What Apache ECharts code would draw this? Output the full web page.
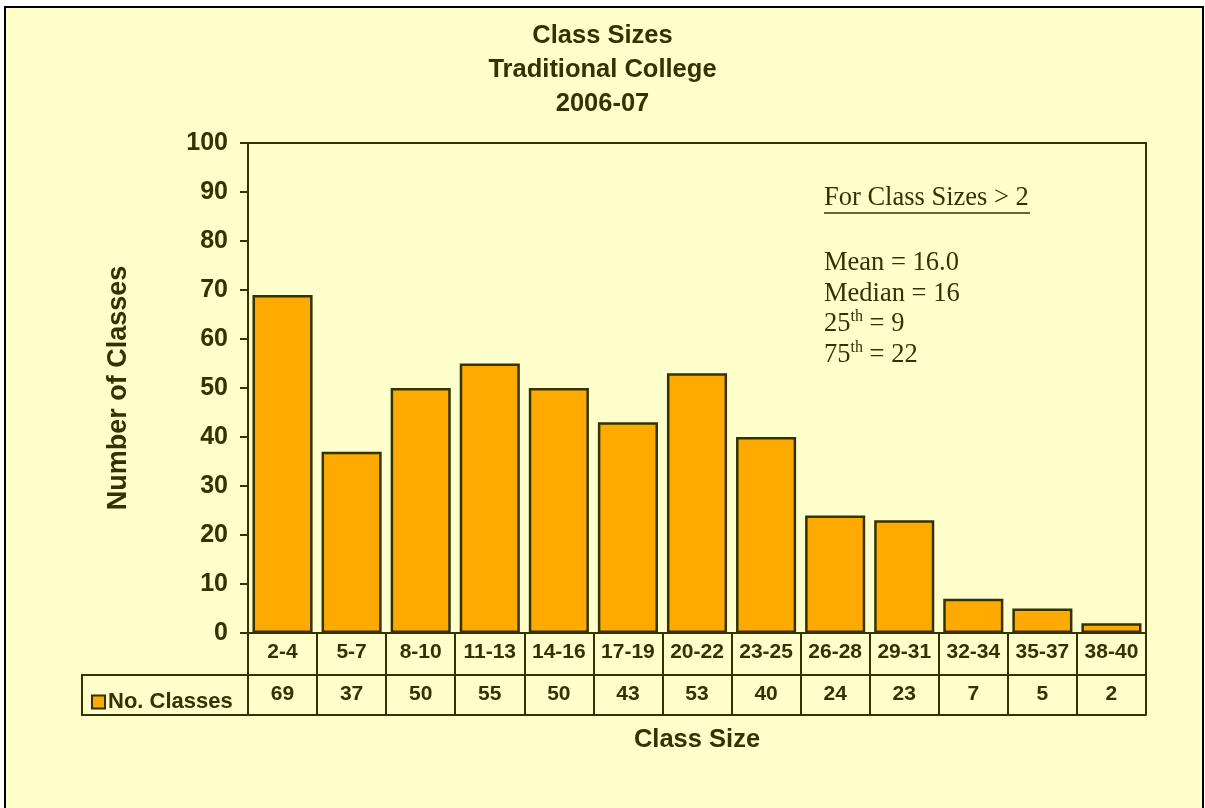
<!DOCTYPE html>
<html>
<head>
<meta charset="utf-8">
<title>Class Sizes</title>
<script src="https://cdn.jsdelivr.net/npm/echarts@6/dist/echarts.min.js"></script>
<style>
    html, body { margin: 0; padding: 0; background: #ffffff; }
    #report { width: 1205px; height: 808px; }
</style>
</head>
<body>
<div id="report"></div>
<script>
// data
var classSizes = ['2-4', '5-7', '8-10', '11-13', '14-16', '17-19', '20-22', '23-25', '26-28', '29-31', '32-34', '35-37', '38-40'];
var noClasses = [69, 37, 50, 55, 50, 43, 53, 40, 24, 23, 7, 5, 2];
var yTicks = [0, 10, 20, 30, 40, 50, 60, 70, 80, 90, 100];

var ink = '#333300';
var sans = 'Liberation Sans, Arial, sans-serif';
var serif = 'Liberation Serif, Times New Roman, serif';

var myChart = echarts.init(document.getElementById('report'));

var option = {
    backgroundColor: '#ffffff',
    animation: false,
    title: {
        text: 'Class Sizes\nTraditional College\n2006-07',
        left: 'center',
        top: 14,
        textStyle: {
            fontFamily: sans,
            fontWeight: 'bold',
            fontSize: 25.5,
            lineHeight: 34,
            color: ink
        }
    },
    legend: {
        left: 86,
        top: 686,
        itemWidth: 13,
        itemHeight: 13,
        itemGap: 0,
        icon: 'rect',
        itemStyle: { color: '#FFAA00', borderColor: ink, borderWidth: 2 },
        textStyle: { fontFamily: sans, fontWeight: 'bold', fontSize: 22, color: ink, padding: [0, 0, 0, -2] }
    },
    grid: {
        left: 248,
        right: 59,
        top: 143,
        bottom: 175,
        show: true,
        borderColor: ink,
        borderWidth: 2,
        backgroundColor: 'transparent'
    },
    xAxis: [
        {
            type: 'category',
            data: classSizes,
            position: 'bottom',
            name: 'Class Size',
            nameLocation: 'middle',
            nameGap: 94,
            nameTextStyle: { fontFamily: sans, fontWeight: 'bold', fontSize: 25.5, color: ink },
            axisLine: { lineStyle: { color: ink, width: 2 } },
            axisTick: { show: true, interval: 0, length: 82, lineStyle: { color: ink, width: 2 } },
            axisLabel: { interval: 0, margin: 9, fontFamily: sans, fontWeight: 'bold', fontSize: 21, color: ink }
        },
        {
            // value row of the data table
            type: 'category',
            data: classSizes,
            position: 'bottom',
            offset: 42,
            axisLine: { lineStyle: { color: ink, width: 2 } },
            axisTick: { show: false },
            axisLabel: {
                interval: 0, margin: 9, fontFamily: sans, fontWeight: 'bold', fontSize: 21, color: ink,
                formatter: function (v, i) { return String(noClasses[i]); }
            }
        },
        {
            type: 'category',
            data: classSizes,
            position: 'bottom',
            offset: 82,
            axisLine: { lineStyle: { color: ink, width: 2 } },
            axisTick: { show: false },
            axisLabel: { show: false }
        }
    ],
    yAxis: {
        type: 'value',
        min: yTicks[0],
        max: yTicks[yTicks.length - 1],
        interval: 10,
        name: 'Number of Classes',
        nameLocation: 'middle',
        nameRotate: 90,
        nameGap: 116,
        nameTextStyle: { fontFamily: sans, fontWeight: 'bold', fontSize: 27, color: ink },
        axisLine: { show: true, lineStyle: { color: ink, width: 2 } },
        axisTick: { show: true, length: 8, lineStyle: { color: ink, width: 2 } },
        splitLine: { show: false },
        axisLabel: { margin: 20, fontFamily: sans, fontWeight: 'bold', fontSize: 25, color: ink }
    },
    series: [{
        name: 'No. Classes',
        type: 'bar',
        data: noClasses,
        barCategoryGap: '13%',
        itemStyle: { color: '#FFAA00', borderColor: ink, borderWidth: 2.5 }
    }],
    graphic: [
        {
            // outer frame
            type: 'rect',
            z: -10,
            silent: true,
            shape: { x: 5, y: 7, width: 1198, height: 830 },
            style: { fill: '#FFFFCC', stroke: '#000000', lineWidth: 2 }
        },
        {
            // legend cell of the data table
            type: 'rect',
            silent: true,
            shape: { x: 82, y: 675, width: 166, height: 40 },
            style: { fill: 'transparent', stroke: ink, lineWidth: 2 }
        },
        {
            type: 'text',
            silent: true,
            left: 824,
            top: 185,
            style: {
                text: 'For Class Sizes > 2',
                font: '26.5px ' + serif,
                fill: ink
            }
        },
        {
            type: 'line',
            silent: true,
            shape: { x1: 824, y1: 213, x2: 1030, y2: 213 },
            style: { stroke: ink, lineWidth: 1.5 }
        },
        {
            type: 'text',
            silent: true,
            left: 824,
            top: 248,
            style: {
                text: 'Mean = 16.0\nMedian = 16\n{n|25}{s|th}{n| = 9}\n{n|75}{s|th}{n| = 22}',
                font: '26.5px ' + serif,
                lineHeight: 30.5,
                fill: ink,
                rich: {
                    n: { fontFamily: serif, fontSize: 26.5, lineHeight: 30.5, color: ink },
                    s: { fontFamily: serif, fontSize: 16, lineHeight: 18, verticalAlign: 'top', color: ink }
                }
            }
        }
    ]
};

myChart.setOption(option);
</script>
</body>
</html>
